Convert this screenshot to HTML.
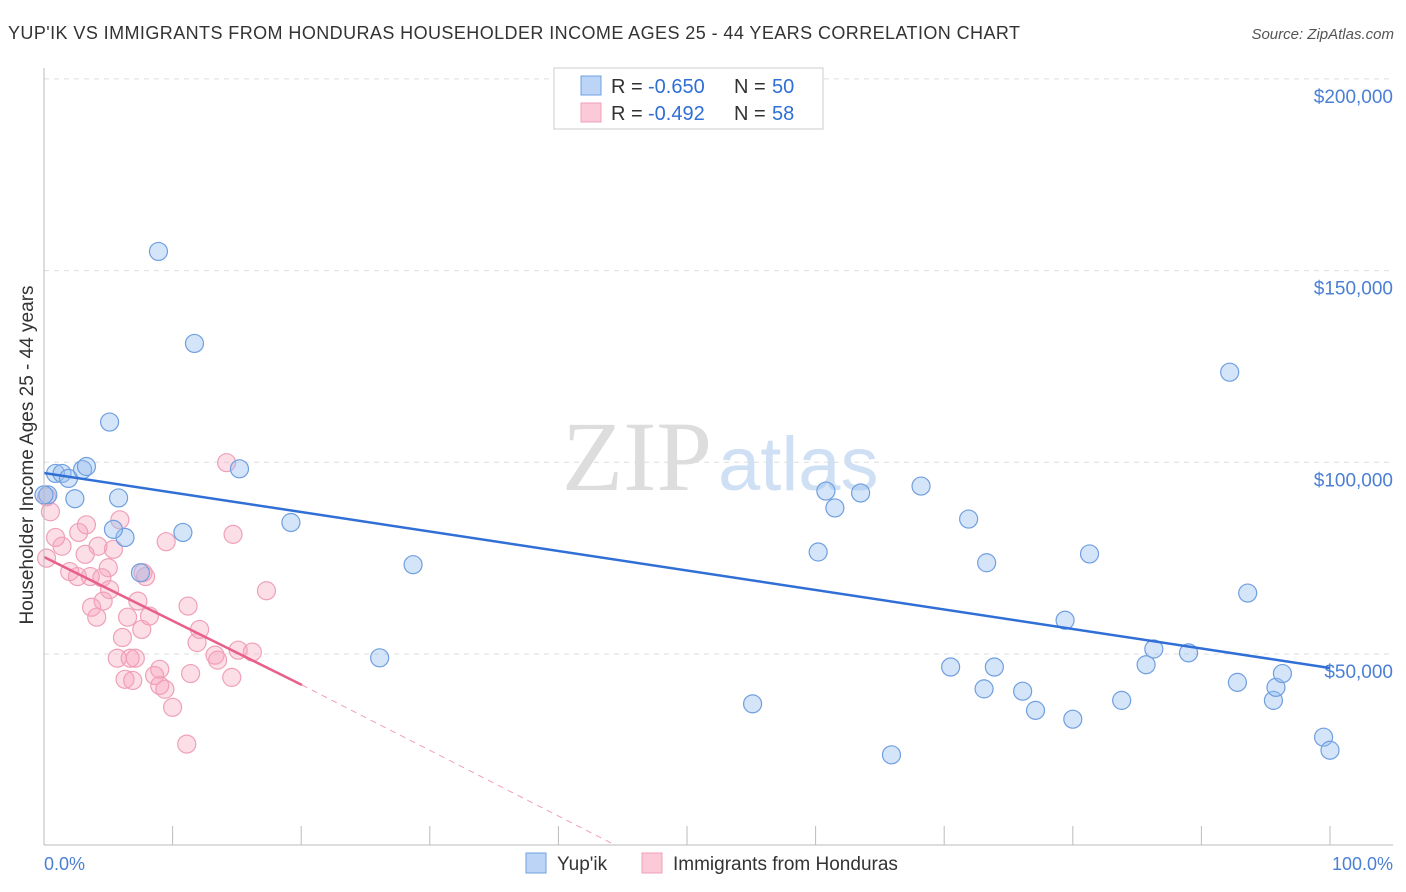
<!DOCTYPE html>
<html><head><meta charset="utf-8"><style>
body{margin:0;background:#fff;font-family:"Liberation Sans",sans-serif}
svg{display:block}
</style></head><body>
<svg width="1406" height="892" id="c">
<text x="8" y="39" font-size="18" fill="#333" textLength="1012">YUP'IK VS IMMIGRANTS FROM HONDURAS HOUSEHOLDER INCOME AGES 25 - 44 YEARS CORRELATION CHART</text>
<text x="1394" y="39" font-size="15" fill="#555" font-style="italic" text-anchor="end">Source: ZipAtlas.com</text>
<text x="712" y="490" font-size="100" fill="#ddd" text-anchor="end" font-family="Liberation Serif">ZIP</text>
<text x="718" y="490" font-size="76" fill="#cfe0f5">atlas</text>
<g id="grid"></g><g id="pts"></g><g id="lines"></g>
<line x1="44" y1="68" x2="44" y2="845" stroke="#bbb"/>
<line x1="44" y1="845" x2="1393" y2="845" stroke="#bbb"/>
<text x="33" y="455" font-size="19" fill="#333" text-anchor="middle" transform="rotate(-90 33 455)">Householder Income Ages 25 - 44 years</text>
<text x="44" y="870" font-size="18" fill="#4a7fd4">0.0%</text>
<text x="1393" y="870" font-size="18" fill="#4a7fd4" text-anchor="end">100.0%</text>
<g>
<rect x="554" y="68" width="269" height="61" fill="#fff" stroke="#ccc"/>
<rect x="581" y="76" width="20" height="19" fill="#bcd4f5" stroke="#6f9fe0"/>
<rect x="581" y="103" width="20" height="19" fill="#fbc9d8" stroke="#f0a0b8"/>
<text x="611" y="93" font-size="20" fill="#333">R =</text>
<text x="648" y="93" font-size="20" fill="#2f6fd6">-0.650</text>
<text x="734" y="93" font-size="20" fill="#333">N =</text>
<text x="772" y="93" font-size="20" fill="#2f6fd6">50</text>
<text x="611" y="120" font-size="20" fill="#333">R =</text>
<text x="648" y="120" font-size="20" fill="#2f6fd6">-0.492</text>
<text x="734" y="120" font-size="20" fill="#333">N =</text>
<text x="772" y="120" font-size="20" fill="#2f6fd6">58</text>
</g>
<g>
<rect x="526" y="853" width="20" height="20" fill="#bcd4f5" stroke="#6f9fe0"/>
<text x="557" y="870" font-size="19" fill="#333">Yup'ik</text>
<rect x="642" y="853" width="20" height="20" fill="#fbc9d8" stroke="#f0a0b8"/>
<text x="673" y="870" font-size="19" fill="#333">Immigrants from Honduras</text>
</g>
</svg>
<script>
const yTicks=[50000,100000,150000,200000];
const yTickLabels=["$50,000","$100,000","$150,000","$200,000"];
const xTicks=[0,10,20,30,40,50,60,70,80,90,100];
const blueX=[8.9,11.7,5.1,0.9,1.4,1.9,3.0,3.3,2.4,5.8,0.3,15.2,6.3,5.4,10.8,19.2,7.5,28.7,26.1,55.1,60.2,60.8,61.5,63.5,68.2,70.5,71.9,73.3,73.1,73.9,76.1,77.1,80.0,79.4,81.3,83.8,85.7,86.3,89.0,92.2,93.6,92.8,95.6,95.8,96.3,99.5,100.0,65.9,0.0];
const blueY=[155000,131000,110500,97100,97100,95800,98100,98900,90500,90700,91500,98300,80400,82500,81700,84300,71200,73300,49000,37000,76600,92500,88100,92000,93800,46600,85200,73800,40900,46600,40300,35300,33000,58800,76100,37900,47200,51300,50300,123500,65900,42600,37900,41300,44900,28300,24900,23700,91500];
const pinkX=[14.2,0.2,0.5,3.3,5.9,2.7,4.2,5.4,1.4,0.9,3.2,9.5,14.7,2.0,2.6,3.6,5.0,4.5,5.1,7.9,7.7,17.3,4.6,3.7,4.1,7.3,8.2,11.2,6.5,7.6,12.1,11.9,6.1,13.3,13.5,15.1,16.2,5.7,7.1,6.7,9.0,11.4,8.6,14.6,6.3,6.9,9.0,9.4,10.0,11.1,0.2];
const pinkY=[99900,91000,87100,83700,85000,81700,78100,77300,78100,80400,76000,79300,81200,71500,70200,70200,72500,69900,66800,70200,71200,66500,63800,62200,59600,63800,59900,62500,59600,56400,56400,53000,54300,49700,48400,51000,50500,48900,48900,48900,46000,44900,44400,43900,43400,43100,41800,40800,36100,26500,75000];
const S="http://www.w3.org/2000/svg";
const X=p=>44+p*12.86, Y=v=>654-(v-50000)*191.7/50000;
const g=document.getElementById('grid'),P=document.getElementById('pts'),L=document.getElementById('lines');
function mk(t,a,parent){const e=document.createElementNS(S,t);for(const k in a)e.setAttribute(k,a[k]);parent.appendChild(e);return e;}
yTicks.forEach((v,i)=>{
const l=mk('line',{x1:44,x2:1393,y1:Y(v),y2:Y(v),stroke:'#ddd','stroke-dasharray':'5,5'},g);


const t=mk('text',{x:1393,y:Y(v)+24,'font-size':19,fill:'#4a7fd4','text-anchor':'end'},g);
t.textContent=yTickLabels[i];


});
xTicks.forEach(p=>{
const l=mk('line',{x1:X(p),x2:X(p),y1:826,y2:845,stroke:'#bbb'},g);


});
pinkX.forEach((x,i)=>{
const c=mk('circle',{cx:X(x),cy:Y(pinkY[i]),r:9,fill:'rgba(245,160,185,0.35)',stroke:'#f0a0b8','stroke-width':1.2},P);


});
blueX.forEach((x,i)=>{
const c=mk('circle',{cx:X(x),cy:Y(blueY[i]),r:9,fill:'rgba(150,190,240,0.4)',stroke:'#6f9fe0','stroke-width':1.2},P);


});
let e=mk('line',{x1:X(0),y1:473,x2:X(100),y2:668,stroke:'#2f6fd6','stroke-width':2.5},L);


e=mk('line',{x1:X(0),y1:557,x2:302,y2:685,stroke:'#e8608a','stroke-width':2.5},L);


e=mk('line',{x1:302,y1:685,x2:615,y2:845,stroke:'#f0a0b8','stroke-width':1,'stroke-dasharray':'6,5'},L);


</script>
</body></html>
